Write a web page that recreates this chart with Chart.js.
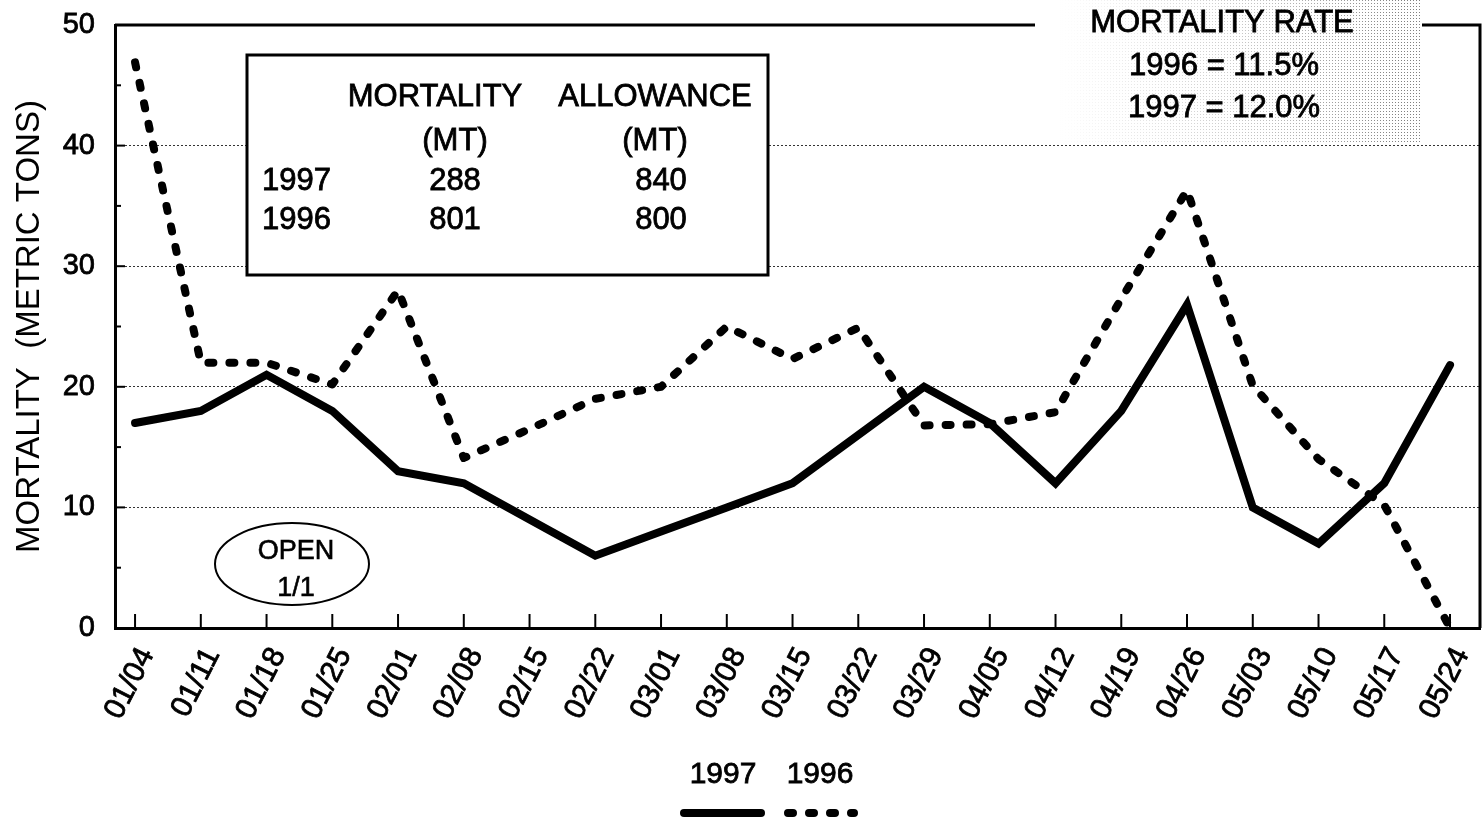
<!DOCTYPE html>
<html>
<head>
<meta charset="utf-8">
<script src="https://cdn.jsdelivr.net/npm/chart.js@4.4.0/dist/chart.umd.min.js"></script>
<style>
    html, body { margin: 0; padding: 0; background: #fff; }
    #wrap { position: relative; width: 1482px; height: 825px; }
</style>
</head>
<body>
<div id="wrap"><canvas id="mortChart" width="1482" height="825"></canvas></div>
<script>
// ============================================
// Mortality by week, 1997 vs 1996
// ============================================

const weekLabels = ['01/04', '01/11', '01/18', '01/25', '02/01', '02/08', '02/15', '02/22', '03/01', '03/08', '03/15',
    '03/22', '03/29', '04/05', '04/12', '04/19', '04/26', '05/03', '05/10', '05/17', '05/24'];
const mortality1997 = [17.0, 18.0, 21.0, 18.0, 13.0, 12.0, 9.0, 6.0, 8.0, 10.0, 12.0,
    16.0, 20.0, 17.0, 12.0, 18.0, 26.8, 10.0, 7.0, 12.0, 21.8];
const mortality1996 = [46.9, 22.0, 22.0, 20.2, 28.0, 14.1, 16.5, 19.0, 20.0, 25.0, 22.3,
    24.9, 16.8, 16.9, 17.9, 27.3, 36.3, 20.1, 14.0, 10.2, 0];
const seriesNames = ['1997', '1996'];
const yTickValues = [0, 10, 20, 30, 40, 50];

const tableHeader = [['MORTALITY', 'ALLOWANCE'], ['(MT)', '(MT)']];
const tableRows = [['1997', '288', '840'], ['1996', '801', '800']];
const rateLines = ['MORTALITY RATE', '1996 = 11.5%', '1997 = 12.0%'];
const openNote = ['OPEN', '1/1'];

const FONT = "'Liberation Sans', Arial, sans-serif";

function toPoints(values) {
    return values.map((v, i) => ({ x: i, y: v }));
}

// slightly heavier text, like the printed original
function inkText(ctx, str, x, y) {
    ctx.fillText(str, x, y);
    ctx.strokeText(str, x, y);
}

// small dot tile for the shaded box
function makeStipple(ctx) {
    const tile = document.createElement('canvas');
    tile.width = 3; tile.height = 3;
    const t = tile.getContext('2d');
    t.fillStyle = 'rgba(0,0,0,0.55)';
    t.fillRect(0, 0, 1, 1);
    return ctx.createPattern(tile, 'repeat');
}

const decorPlugin = {
    id: 'decor',
    beforeDatasetsDraw(chart) {
        const { ctx, chartArea: a } = chart;
        ctx.save();

        // top + right frame, broken by the rate box
        ctx.strokeStyle = '#000';
        ctx.lineWidth = 3;
        ctx.beginPath();
        ctx.moveTo(a.left, a.top); ctx.lineTo(1035, a.top);
        ctx.moveTo(1422, a.top); ctx.lineTo(a.right, a.top); ctx.lineTo(a.right, a.bottom);
        ctx.stroke();

        // stippled rate box, fading in to the right
        ctx.fillStyle = makeStipple(ctx);
        ctx.fillRect(1060, 0, 360, 143);
        const fade = ctx.createLinearGradient(1060, 0, 1400, 0);
        fade.addColorStop(0, 'rgba(255,255,255,1)');
        fade.addColorStop(0.6, 'rgba(255,255,255,0.55)');
        fade.addColorStop(1, 'rgba(255,255,255,0.1)');
        ctx.fillStyle = fade;
        ctx.fillRect(1060, 0, 360, 143);

        ctx.fillStyle = '#000';
        ctx.lineWidth = 0.8;
        ctx.font = `31px ${FONT}`;
        ctx.textAlign = 'center';
        ctx.textBaseline = 'middle';
        inkText(ctx, rateLines[0], 1222, 23);
        inkText(ctx, rateLines[1], 1224, 66);
        inkText(ctx, rateLines[2], 1224, 108);

        // summary table
        ctx.fillStyle = '#fff';
        ctx.fillRect(247, 55, 521, 220);
        ctx.lineWidth = 3;
        ctx.strokeRect(247, 55, 521, 220);
        ctx.fillStyle = '#000';
        ctx.lineWidth = 0.8;
        ctx.font = `31px ${FONT}`;
        ctx.textAlign = 'center';
        inkText(ctx, tableHeader[0][0], 435, 97);
        inkText(ctx, tableHeader[0][1], 655, 97);
        inkText(ctx, tableHeader[1][0], 455, 141);
        inkText(ctx, tableHeader[1][1], 655, 141);
        tableRows.forEach((row, r) => {
            const y = 181 + r * 39;
            ctx.textAlign = 'left';
            inkText(ctx, row[0], 262, y);
            ctx.textAlign = 'center';
            inkText(ctx, row[1], 455, y);
            inkText(ctx, row[2], 661, y);
        });

        // OPEN 1/1 oval
        ctx.lineWidth = 2;
        ctx.beginPath();
        ctx.ellipse(292, 564, 77, 41, 0, 0, Math.PI * 2);
        ctx.stroke();
        ctx.lineWidth = 0.6;
        ctx.font = `27px ${FONT}`;
        inkText(ctx, openNote[0], 296, 552);
        inkText(ctx, openNote[1], 296, 589);

        ctx.restore();
    },
    afterDraw(chart) {
        const { ctx, chartArea: a, scales } = chart;
        ctx.save();
        ctx.strokeStyle = '#000';
        ctx.lineWidth = 2;

        // inner tick marks
        scales.y.ticks.forEach(t => {
            const y = scales.y.getPixelForValue(t.value);
            ctx.beginPath();
            ctx.moveTo(a.left, y);
            ctx.lineTo(a.left + (t.value % 10 === 0 ? 10 : 6), y);
            ctx.stroke();
        });
        scales.x.ticks.forEach(t => {
            const x = scales.x.getPixelForValue(t.value);
            ctx.beginPath();
            ctx.moveTo(x, a.bottom);
            ctx.lineTo(x, a.bottom - 14);
            ctx.stroke();
        });

        // legend: labels above line samples
        const items = [{ cx: 723, x0: 680, x1: 765 }, { cx: 820, x0: 784, x1: 858 }];
        ctx.fillStyle = '#000';
        ctx.font = `30px ${FONT}`;
        ctx.textAlign = 'center';
        ctx.textBaseline = 'middle';
        chart.data.datasets.forEach((ds, i) => {
            const it = items[i];
            ctx.lineWidth = 0.8;
            ctx.setLineDash([]);
            inkText(ctx, ds.label, it.cx, 775);
            ctx.lineWidth = ds.borderWidth;
            ctx.lineCap = ds.borderCapStyle || 'butt';
            ctx.setLineDash(ds.borderDash || []);
            ctx.beginPath();
            ctx.moveTo(it.x0 + 4, 813);
            ctx.lineTo(it.x1 - 4, 813);
            ctx.stroke();
        });
        ctx.restore();
    }
};

new Chart(document.getElementById('mortChart'), {
    type: 'line',
    data: {
        datasets: [{
            label: seriesNames[0],
            data: toPoints(mortality1997),
            borderColor: '#000',
            borderWidth: 8,
            borderCapStyle: 'round',
            borderJoinStyle: 'miter',
            pointRadius: 0,
            tension: 0
        }, {
            label: seriesNames[1],
            data: toPoints(mortality1996),
            borderColor: '#000',
            borderWidth: 8,
            borderDash: [5, 16],
            borderCapStyle: 'round',
            borderJoinStyle: 'round',
            pointRadius: 0,
            tension: 0
        }]
    },
    options: {
        responsive: false,
        animation: false,
        devicePixelRatio: 1,
        layout: { padding: { top: 25, right: 2, left: 0, bottom: 0 } },
        plugins: { legend: { display: false }, tooltip: { enabled: false } },
        scales: {
            x: {
                type: 'linear',
                min: -0.305,
                max: 20.456,
                afterBuildTicks: scale => { scale.ticks = weekLabels.map((_, i) => ({ value: i })); },
                afterFit: scale => {
                    scale.height = 197;
                    scale.paddingLeft = 0;
                    scale.paddingRight = 0;
                },
                grid: { display: false, drawTicks: false },
                border: { color: '#000', width: 3 },
                ticks: {
                    autoSkip: false,
                    minRotation: 63,
                    maxRotation: 63,
                    padding: 14,
                    labelOffset: 12,
                    color: '#000',
                    textStrokeColor: '#000',
                    textStrokeWidth: 0.8,
                    font: { family: FONT, size: 30 },
                    callback: v => weekLabels[v] ?? ''
                }
            },
            y: {
                min: 0,
                max: 50,
                afterFit: scale => {
                    scale.width = 115;
                    scale.paddingTop = 0;
                    scale.paddingBottom = 0;
                },
                afterBuildTicks: scale => {
                    const ticks = [];
                    for (let v = 0; v <= 50; v += 5) ticks.push({ value: v });
                    scale.ticks = ticks;
                },
                grid: {
                    drawTicks: false,
                    color: c => (yTickValues.includes(c.tick.value) && c.tick.value > 0 && c.tick.value < 50) ? '#333' : 'rgba(0,0,0,0)',
                    lineWidth: 1
                },
                border: { color: '#000', width: 3, dash: [2, 2] },
                ticks: {
                    padding: 20,
                    color: '#000',
                    textStrokeColor: '#000',
                    textStrokeWidth: 0.8,
                    font: { family: FONT, size: 29 },
                    callback: v => yTickValues.includes(v) ? String(v) : ''
                },
                title: {
                    display: true,
                    text: 'MORTALITY  (METRIC TONS)',
                    color: '#000',
                    font: { family: FONT, size: 33 },
                    padding: { top: 10, bottom: 0 }
                }
            }
        }
    },
    plugins: [decorPlugin]
});
</script>
</body>
</html>
